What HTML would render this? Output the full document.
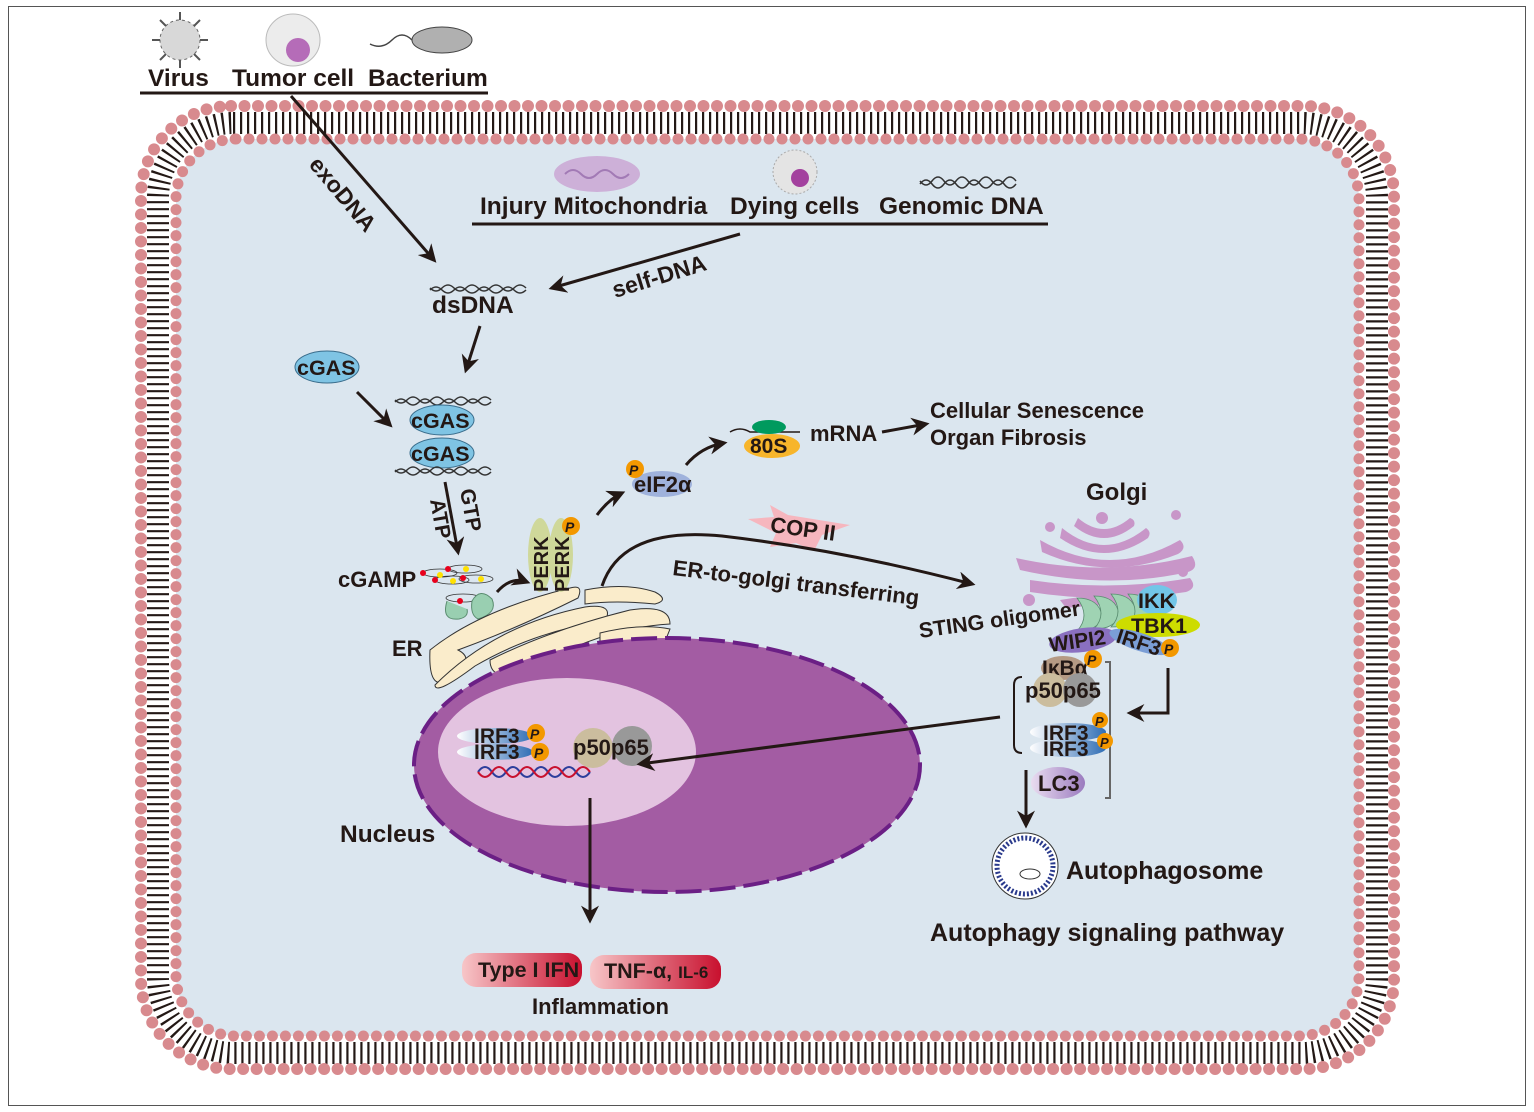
<!DOCTYPE html>
<html><head><meta charset="utf-8"><style>
html,body{margin:0;padding:0;background:#fff}
svg{display:block}
text{font-family:"Liberation Sans",sans-serif;font-weight:bold;fill:#231815}
</style></head><body>
<svg width="1534" height="1112" viewBox="0 0 1534 1112" xmlns="http://www.w3.org/2000/svg">
<defs>
<marker id="ah" viewBox="0 0 10 10" refX="8" refY="5" markerWidth="6" markerHeight="6" orient="auto-start-reverse" markerUnits="strokeWidth"><path d="M0,0 L10,5 L0,10 L3,5 Z" fill="#231815"/></marker>
<linearGradient id="rg" x1="0" x2="1"><stop offset="0" stop-color="#f7c6c8"/><stop offset="1" stop-color="#c8102e"/></linearGradient>
<linearGradient id="bg2" x1="0" x2="1"><stop offset="0" stop-color="#fff"/><stop offset="1" stop-color="#2f6db5"/></linearGradient>
<linearGradient id="lc" x1="0" x2="1"><stop offset="0" stop-color="#e9dcf0"/><stop offset="1" stop-color="#9b7bbf"/></linearGradient>
</defs>
<rect x="8.5" y="6.5" width="1517" height="1099" fill="#fff" stroke="#555" stroke-width="1"/>
<!-- cell -->
<rect x="141" y="106" width="1253" height="963" rx="90" fill="#fff"/>
<rect x="176" y="139" width="1183" height="897" rx="60" fill="#dbe6ef"/>
<rect x="158" y="123" width="1219" height="930" rx="75" fill="none" stroke="#231815" stroke-width="22" stroke-dasharray="2.2 4.8"/>
<rect x="141" y="106" width="1253" height="963" rx="90" fill="none" stroke="#d88a8e" stroke-width="12" stroke-linecap="round" stroke-dasharray="0 13.5"/>
<rect x="176" y="139" width="1183" height="897" rx="60" fill="none" stroke="#d88a8e" stroke-width="11" stroke-linecap="round" stroke-dasharray="0 13"/>

<!-- top pathogens -->
<circle cx="180" cy="40" r="20" fill="#d8d8d8" stroke="#666" stroke-dasharray="3 3"/>
<g stroke="#555" stroke-width="2"><path d="M180,12V20M180,60V68M152,40H160M200,40H208M160,20L166,26M200,20L194,26M160,60L166,54M200,60L194,54"/></g>
<ellipse cx="293" cy="40" rx="27" ry="26" fill="#ececec" stroke="#bbb"/>
<circle cx="298" cy="50" r="12" fill="#b56cb8"/>
<ellipse cx="442" cy="40" rx="30" ry="13" fill="#b0b0b0" stroke="#444"/>
<path d="M412,40 q-10,-10 -20,0 t-22,4" fill="none" stroke="#444" stroke-width="1.5"/>
<text x="148" y="86" font-size="24.5">Virus</text>
<text x="232" y="86" font-size="24.5">Tumor cell</text>
<text x="368" y="86" font-size="24.5">Bacterium</text>
<line x1="140" y1="93" x2="488" y2="93" stroke="#231815" stroke-width="3"/>
<line x1="291" y1="96" x2="434" y2="260" stroke="#231815" stroke-width="3" marker-end="url(#ah)"/>
<text x="0" y="0" font-size="23" transform="translate(308,165) rotate(50)">exoDNA</text>

<!-- self DNA sources -->
<ellipse cx="597" cy="174" rx="43" ry="18" fill="#cdb0d8"/>
<path d="M565,174 q8,-8 16,0 t16,0 t16,0 t16,0" fill="none" stroke="#a27ab5" stroke-width="2"/>
<circle cx="795" cy="172" r="22" fill="#e4e4e4" stroke="#aaa" stroke-dasharray="2 2"/>
<circle cx="800" cy="178" r="9" fill="#a3419e"/>
<path d="M920,184 q6,-8 12,0 t12,0 t12,0 t12,0 t12,0 t12,0 t12,0 t12,0" fill="none" stroke="#333" stroke-width="1.5"/>
<path d="M920,181 q6,8 12,0 t12,0 t12,0 t12,0 t12,0 t12,0 t12,0 t12,0" fill="none" stroke="#333" stroke-width="1.5"/>
<text x="480" y="214" font-size="24.5">Injury Mitochondria</text>
<text x="730" y="214" font-size="24.5">Dying cells</text>
<text x="879" y="214" font-size="24.5">Genomic DNA</text>
<line x1="472" y1="224" x2="1048" y2="224" stroke="#231815" stroke-width="3"/>
<line x1="740" y1="234" x2="552" y2="288" stroke="#231815" stroke-width="3" marker-end="url(#ah)"/>
<text font-size="23" transform="translate(615,298) rotate(-17)">self-DNA</text>

<!-- dsDNA -->
<path d="M430,290 q6,-6 12,0 t12,0 t12,0 t12,0 t12,0 t12,0 t12,0 t12,0" fill="none" stroke="#333" stroke-width="1.5"/>
<path d="M430,288 q6,6 12,0 t12,0 t12,0 t12,0 t12,0 t12,0 t12,0 t12,0" fill="none" stroke="#333" stroke-width="1.5"/>
<text x="432" y="313" font-size="24.5">dsDNA</text>
<line x1="480" y1="326" x2="466" y2="370" stroke="#231815" stroke-width="3" marker-end="url(#ah)"/>
<ellipse cx="327" cy="367" rx="32" ry="16" fill="#7fc4e4" stroke="#3a6d8c"/>
<text x="297" y="375" font-size="21.5">cGAS</text>
<line x1="357" y1="392" x2="390" y2="425" stroke="#231815" stroke-width="3" marker-end="url(#ah)"/>
<path d="M395,402 q6,-6 12,0 t12,0 t12,0 t12,0 t12,0 t12,0 t12,0 t12,0" fill="none" stroke="#333" stroke-width="1.5"/>
<path d="M395,400 q6,6 12,0 t12,0 t12,0 t12,0 t12,0 t12,0 t12,0 t12,0" fill="none" stroke="#333" stroke-width="1.5"/>
<ellipse cx="442" cy="420" rx="32" ry="15" fill="#7fc4e4" stroke="#3a6d8c"/>
<ellipse cx="442" cy="453" rx="32" ry="15" fill="#7fc4e4" stroke="#3a6d8c"/>
<text x="411" y="428" font-size="21.5">cGAS</text>
<text x="411" y="461" font-size="21.5">cGAS</text>
<path d="M395,472 q6,-6 12,0 t12,0 t12,0 t12,0 t12,0 t12,0 t12,0 t12,0" fill="none" stroke="#333" stroke-width="1.5"/>
<path d="M395,470 q6,6 12,0 t12,0 t12,0 t12,0 t12,0 t12,0 t12,0 t12,0" fill="none" stroke="#333" stroke-width="1.5"/>
<line x1="445" y1="482" x2="458" y2="552" stroke="#231815" stroke-width="3" marker-end="url(#ah)"/>
<text font-size="21" transform="translate(460,490) rotate(80)">GTP</text>
<text font-size="21" transform="translate(430,500) rotate(80)">ATP</text>

<!-- cGAMP -->
<text x="338" y="587" font-size="22">cGAMP</text>
<g fill="none" stroke="#333" stroke-width="0.8">
<ellipse cx="440" cy="573" rx="17" ry="4"/><ellipse cx="465" cy="569" rx="17" ry="4"/>
<ellipse cx="452" cy="580" rx="17" ry="4"/><ellipse cx="476" cy="579" rx="17" ry="4"/>
<ellipse cx="463" cy="598" rx="17" ry="4"/></g>
<g fill="#e8001c"><circle cx="423" cy="573" r="3"/><circle cx="448" cy="569" r="3"/><circle cx="435" cy="580" r="3"/><circle cx="463" cy="578" r="3"/><circle cx="460" cy="601" r="3"/></g>
<g fill="#ffe100"><circle cx="440" cy="575" r="3"/><circle cx="466" cy="569" r="3"/><circle cx="453" cy="581" r="3"/><circle cx="481" cy="579" r="3"/><circle cx="479" cy="597" r="3"/></g>
<path d="M447,601 q-6,20 12,18 q10,-2 8,-10" fill="#99cfb1" stroke="#5a8d70"/>
<path d="M472,601 q8,-14 20,-2 q6,14 -14,20 q-8,-4 -6,-18z" fill="#99cfb1" stroke="#5a8d70"/>
<path d="M497,592 q14,-16 30,-10" fill="none" stroke="#231815" stroke-width="3" marker-end="url(#ah)"/>

<!-- ER -->
<g fill="#faeccb" stroke="#333" stroke-width="1">
<path d="M430,650 q50,-40 140,-62 q14,-4 8,10 q-60,30 -120,52 q20,10 -10,30 q-20,12 -18,-30z"/>
<path d="M435,685 q60,-60 150,-78 q30,-4 20,14 q-70,10 -130,45 q-40,30 -40,19z"/>
<path d="M585,590 q40,-8 70,2 q15,8 0,12 q-40,-4 -70,0z"/>
<path d="M490,660 q60,-30 140,-50 q40,-6 40,14 q-70,4 -140,46 q-40,14 -40,-10z"/>
<path d="M600,633 q40,-10 70,-4 l-4,10 q-40,2 -66,8z"/>
</g>
<text x="392" y="656" font-size="22">ER</text>
<!-- PERK -->
<ellipse cx="540" cy="555" rx="12" ry="37" fill="#cfd89a"/>
<ellipse cx="561" cy="555" rx="12" ry="37" fill="#cfd89a"/>
<text font-size="20" transform="translate(548,592) rotate(-90)">PERK</text>
<text font-size="20" transform="translate(569,592) rotate(-90)">PERK</text>
<circle cx="571" cy="526" r="9" fill="#f39800"/><text x="565" y="532" font-size="14" font-style="italic">P</text>
<path d="M597,515 q12,-16 25,-22" fill="none" stroke="#231815" stroke-width="3" marker-end="url(#ah)"/>
<ellipse cx="662" cy="484" rx="30" ry="13" fill="#9fb2dc"/>
<text x="634" y="492" font-size="22">eIF2α</text>
<circle cx="635" cy="469" r="9" fill="#f39800"/><text x="629" y="475" font-size="14" font-style="italic">P</text>
<path d="M686,465 q15,-18 38,-22" fill="none" stroke="#231815" stroke-width="3" marker-end="url(#ah)"/>
<path d="M730,432 q10,-6 20,0 h50" fill="none" stroke="#231815" stroke-width="1.5"/>
<ellipse cx="769" cy="427" rx="17" ry="7" fill="#009a5e"/>
<ellipse cx="772" cy="446" rx="28" ry="12" fill="#f7b52b"/>
<text x="750" y="453" font-size="21">80S</text>
<text x="810" y="441" font-size="22">mRNA</text>
<line x1="882" y1="432" x2="926" y2="424" stroke="#231815" stroke-width="3" marker-end="url(#ah)"/>
<text x="930" y="418" font-size="22">Cellular Senescence</text>
<text x="930" y="445" font-size="22">Organ Fibrosis</text>

<!-- COP II and transfer -->
<path d="M770,505 l18,10 l62,10 l-28,10 l-8,16 l-18,-8 l-26,4 l6,-14 l-28,-14 l26,-2z" fill="#f6b6be"/>
<text x="770" y="536" font-size="22" transform="rotate(8,800,530)">COP II</text>
<path d="M602,586 q20,-60 120,-50 q120,14 250,48" fill="none" stroke="#231815" stroke-width="3" marker-end="url(#ah)"/>
<text font-size="22" transform="translate(672,575) rotate(7)">ER-to-golgi transferring</text>

<!-- Golgi -->
<text x="1086" y="500" font-size="24">Golgi</text>
<g fill="#c896c8">
<path d="M1078,518 q26,22 52,0 q6,2 4,8 q-30,24 -60,0z"/>
<path d="M1062,528 q42,34 84,0 q6,4 2,10 q-44,30 -88,0z"/>
<path d="M1040,540 q70,40 140,0 q8,8 -2,14 q-70,28 -136,-2z"/>
<path d="M1016,558 q90,20 176,-2 q8,12 -4,16 q-80,18 -168,-2z"/>
<path d="M1030,580 q80,12 160,-2 q8,10 -4,14 q-80,12 -156,0z"/>
<path d="M1060,600 q60,-10 110,0 l-4,8 q-50,-6 -100,0z"/>
<circle cx="1102" cy="518" r="6"/><circle cx="1050" cy="527" r="5"/><circle cx="1176" cy="515" r="5"/><circle cx="1183" cy="572" r="5"/><circle cx="1029" cy="600" r="6"/>
</g>
<g fill="#9fd3b3" stroke="#5a8d70" stroke-width="0.8">
<path d="M1077,598 q22,0 25,18 q-3,15 -25,15 q14,-15 0,-33z"/>
<path d="M1094,596 q22,0 25,18 q-3,15 -25,15 q14,-15 0,-33z"/>
<path d="M1111,594 q22,0 25,18 q-3,15 -25,15 q14,-15 0,-33z"/>
<path d="M1128,594 q22,0 25,18 q-3,15 -25,15 q14,-15 0,-33z"/>
</g>
<text font-size="21.5" transform="translate(920,638) rotate(-8)">STING oligomer</text>
<ellipse cx="1157" cy="600" rx="20" ry="15" fill="#72c6e8"/>
<text x="1138" y="608" font-size="21.5">IKK</text>
<ellipse cx="1158" cy="625" rx="42" ry="12" fill="#cddc00"/>
<text x="1131" y="633" font-size="21.5">TBK1</text>
<ellipse cx="1083" cy="640" rx="34" ry="12" fill="#8a70c0" transform="rotate(-8,1083,640)"/>
<text font-size="21" transform="translate(1050,652) rotate(-8)">WIPI2</text>
<ellipse cx="1140" cy="642" rx="32" ry="9" fill="#7b9ed6" transform="rotate(18,1140,642)"/>
<text font-size="21" transform="translate(1115,642) rotate(18)">IRF3</text>
<circle cx="1170" cy="648" r="9" fill="#f39800"/><text x="1164" y="654" font-size="14" font-style="italic">P</text>
<ellipse cx="1063" cy="668" rx="22" ry="12" fill="#b59a84"/>
<text x="1042" y="675" font-size="21">IκBα</text>
<circle cx="1093" cy="659" r="9" fill="#f39800"/><text x="1087" y="665" font-size="14" font-style="italic">P</text>
<circle cx="1050" cy="690" r="17" fill="#cbbd9e"/><circle cx="1080" cy="690" r="17" fill="#999"/>
<text x="1025" y="698" font-size="22">p50p65</text>
<path d="M1022,677 q-8,0 -8,8 v60 q0,8 8,8" fill="none" stroke="#231815" stroke-width="2"/>
<path d="M1105,662 h5 v136 h-5" fill="none" stroke="#666" stroke-width="2"/>
<ellipse cx="1068" cy="732" rx="38" ry="9" fill="url(#bg2)"/>
<ellipse cx="1068" cy="748" rx="38" ry="9" fill="url(#bg2)"/>
<text x="1043" y="740" font-size="21">IRF3</text><text x="1043" y="756" font-size="21">IRF3</text>
<circle cx="1100" cy="720" r="8" fill="#f39800"/><text x="1095" y="726" font-size="13" font-style="italic">P</text>
<circle cx="1105" cy="741" r="8" fill="#f39800"/><text x="1100" y="747" font-size="13" font-style="italic">P</text>
<path d="M1168,668 v45 h-38" fill="none" stroke="#231815" stroke-width="3" marker-end="url(#ah)"/>
<ellipse cx="1058" cy="783" rx="27" ry="16" fill="url(#lc)"/>
<text x="1038" y="791" font-size="22">LC3</text>
<line x1="1026" y1="770" x2="1026" y2="825" stroke="#231815" stroke-width="3" marker-end="url(#ah)"/>
<circle cx="1025" cy="866" r="33" fill="#fff" stroke="#333"/>
<circle cx="1025" cy="866" r="28" fill="#fff" stroke="#2a3a8c" stroke-width="5" stroke-dasharray="2 2"/>
<ellipse cx="1030" cy="874" rx="10" ry="5" fill="none" stroke="#333"/>
<text x="1066" y="879" font-size="25">Autophagosome</text>
<text x="930" y="941" font-size="25">Autophagy signaling pathway</text>

<!-- Nucleus -->
<ellipse cx="667" cy="765" rx="253" ry="127" fill="#a35ca3" stroke="#6b1f85" stroke-width="4" stroke-dasharray="26 8"/>
<ellipse cx="567" cy="752" rx="129" ry="74" fill="#e3c3e0"/>
<ellipse cx="495" cy="736" rx="38" ry="8" fill="url(#bg2)"/>
<ellipse cx="495" cy="752" rx="38" ry="8" fill="url(#bg2)"/>
<text x="474" y="743" font-size="21">IRF3</text><text x="474" y="759" font-size="21">IRF3</text>
<circle cx="536" cy="733" r="9" fill="#f39800"/><text x="530" y="739" font-size="14" font-style="italic">P</text>
<circle cx="540" cy="752" r="9" fill="#f39800"/><text x="534" y="758" font-size="14" font-style="italic">P</text>
<path d="M478,772 q7,-10 14,0 t14,0 t14,0 t14,0 t14,0 t14,0 t14,0 t14,0" fill="none" stroke="#2c3e9c" stroke-width="2"/>
<path d="M478,772 q7,10 14,0 t14,0 t14,0 t14,0 t14,0 t14,0 t14,0 t14,0" fill="none" stroke="#c8102e" stroke-width="2"/>
<circle cx="593" cy="748" r="20" fill="#cbbd9e"/><circle cx="632" cy="746" r="20" fill="#999"/>
<text x="573" y="755" font-size="22">p50p65</text>
<line x1="1000" y1="717" x2="640" y2="764" stroke="#231815" stroke-width="3" marker-end="url(#ah)"/>
<text x="340" y="842" font-size="24.5">Nucleus</text>
<line x1="590" y1="798" x2="590" y2="920" stroke="#231815" stroke-width="3" marker-end="url(#ah)"/>

<rect x="462" y="953" width="120" height="34" rx="14" fill="url(#rg)"/>
<rect x="590" y="955" width="131" height="34" rx="14" fill="url(#rg)"/>
<text x="478" y="977" font-size="21.5">Type I IFN</text>
<text x="604" y="978" font-size="21.5">TNF-α, <tspan font-size="17">IL-6</tspan></text>
<text x="532" y="1014" font-size="22">Inflammation</text>
</svg>
</body></html>
